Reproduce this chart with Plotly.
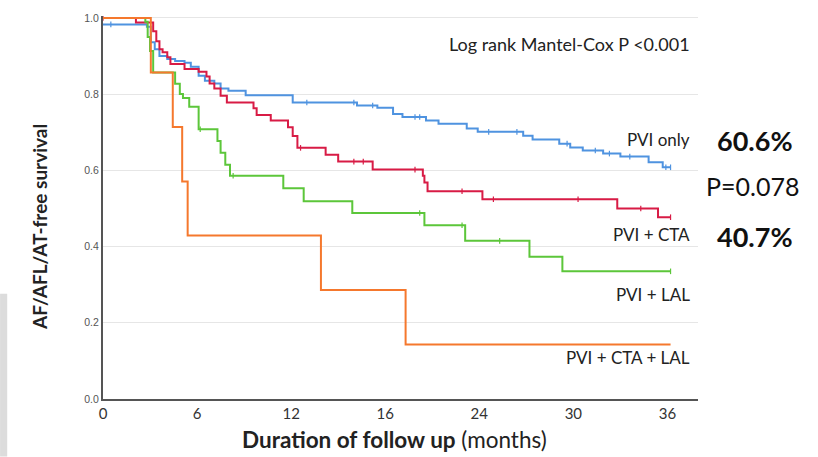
import numpy as np
import plotly.graph_objects as go

# ---- data (time in months, survival probability) ----
pvi_only_t = [0, 2.8, 3.05, 3.3, 3.6, 4.1, 4.6, 5.2, 5.6, 6.1, 6.5, 7.1, 7.5, 8.0, 9.1, 12.1, 16.2, 17.5,
              18.5, 19.1, 20.6, 21.4, 23.2, 23.9, 26.8, 27.4, 29.1, 29.8, 30.6, 31.9, 33.0, 34.8, 35.7, 36.2]
pvi_only_s = [0.983, 0.977, 0.936, 0.918, 0.900, 0.892, 0.887, 0.882, 0.872, 0.848, 0.835, 0.828, 0.815,
              0.809, 0.797, 0.778, 0.770, 0.764, 0.748, 0.740, 0.731, 0.722, 0.710, 0.701, 0.691, 0.681,
              0.670, 0.660, 0.652, 0.644, 0.636, 0.621, 0.608, 0.608]
pvi_only_cens = [0.5, 13.0, 16.0, 17.2, 19.9, 20.2, 24.6, 26.4, 29.6, 31.4, 32.3, 33.6, 35.9, 36.2]

pvi_cta_t = [0, 2.1, 3.2, 3.4, 3.6, 3.8, 4.1, 4.3, 5.2, 6.1, 6.6, 6.8, 7.1, 7.5, 7.9, 9.6, 9.8, 10.7, 11.8,
             12.1, 12.4, 14.2, 15.0, 17.2, 20.4, 20.5, 20.7, 24.2, 32.8, 35.4, 36.2]
pvi_cta_s = [1.0, 0.988, 0.965, 0.939, 0.918, 0.910, 0.897, 0.879, 0.866, 0.859, 0.846, 0.828, 0.815, 0.796,
             0.778, 0.763, 0.745, 0.731, 0.713, 0.690, 0.659, 0.641, 0.623, 0.602, 0.586, 0.568, 0.545,
             0.524, 0.500, 0.477, 0.477]
pvi_cta_cens = [0.0, 12.6, 16.0, 16.6, 19.9, 22.9, 24.9, 30.3, 34.3, 36.2]

pvi_lal_t = [0, 2.7, 2.85, 3.0, 3.2, 4.6, 4.9, 5.1, 5.5, 6.1, 7.3, 7.5, 7.8, 8.1, 11.5, 12.8, 15.9, 20.5,
             23.1, 27.2, 29.3, 36.2]
pvi_lal_s = [1.0, 0.990, 0.950, 0.913, 0.857, 0.827, 0.800, 0.790, 0.767, 0.708, 0.677, 0.646, 0.615, 0.586,
             0.553, 0.519, 0.488, 0.456, 0.415, 0.373, 0.335, 0.335]
pvi_lal_cens = [6.2, 8.3, 20.2, 22.9, 25.3, 36.2]

pvi_cta_lal_t = [0, 3.05, 4.45, 5.05, 5.4, 13.9, 19.3, 36.2]
pvi_cta_lal_s = [1.0, 0.857, 0.714, 0.571, 0.429, 0.286, 0.143, 0.143]

series_names = ["PVI only", "PVI + CTA", "PVI + LAL", "PVI + CTA + LAL"]
series_colors = ["#4f93e0", "#d81b45", "#5cc63a", "#f5782d"]

x_tick_vals = [0, 6, 12, 18, 24, 30, 36]
x_tick_text = ["0", "6", "12", "16", "24", "30", "36"]
y_tick_vals = [0.0, 0.2, 0.4, 0.6, 0.8, 1.0]
y_tick_text = ["0.0", "0.2", "0.4", "0.6", "0.8", "1.0"]

label_font = "Lato, 'Open Sans', sans-serif"

def step_value(ts, ss, t):
    idx = np.searchsorted(np.array(ts), t, side="right") - 1
    return ss[max(idx, 0)]

fig = go.Figure()
curves = [
    (pvi_only_t, pvi_only_s, pvi_only_cens),
    (pvi_cta_t, pvi_cta_s, pvi_cta_cens),
    (pvi_lal_t, pvi_lal_s, pvi_lal_cens),
    (pvi_cta_lal_t, pvi_cta_lal_s, []),
]
for (ts, ss, cens), name, col in zip(curves, series_names, series_colors):
    fig.add_trace(go.Scatter(x=ts, y=ss, mode="lines", line=dict(color=col, width=2, shape="hv"),
                             name=name, showlegend=False, hoverinfo="skip"))
    if cens:
        fig.add_trace(go.Scatter(x=cens, y=[step_value(ts, ss, c) for c in cens], mode="markers",
                                 marker=dict(symbol="line-ns", size=4, line=dict(color=col, width=1.2)),
                                 showlegend=False, hoverinfo="skip"))

fig.update_xaxes(range=[0, 37.95], tickvals=x_tick_vals, ticktext=x_tick_text, showgrid=False,
                 showline=True, linecolor="#555", linewidth=2, zeroline=False, ticks="",
                 tickfont=dict(family=label_font, size=15, color="#333"))
fig.update_yaxes(range=[0, 1.005], tickvals=y_tick_vals, ticktext=y_tick_text, showgrid=True,
                 gridcolor="#e6e6e6", gridwidth=1.2, showline=True, linecolor="#555", linewidth=2,
                 zeroline=False, ticks="", tickfont=dict(family="'Liberation Sans', Arial", size=10.5, color="#555"))

ann = []
def add_text(x, y, text, size, xanchor="right", bold=False, color="#222"):
    ann.append(dict(x=x, y=y, xref="paper", yref="paper", text=(f"<b>{text}</b>" if bold else text),
                    showarrow=False, xanchor=xanchor, yanchor="middle",
                    font=dict(family=label_font, size=size, color=color)))

add_text(0.99, 0.928, "Log rank Mantel-Cox P &lt;0.001", 18)
add_text(0.99, 0.677, "PVI only", 17)
add_text(0.99, 0.429, "PVI + CTA", 17)
add_text(0.99, 0.274, "PVI + LAL", 17)
add_text(0.99, 0.109, "PVI + CTA + LAL", 17)
add_text(1.096, 0.674, "60.6%", 27, xanchor="center", bold=True, color="#111")
add_text(1.091, 0.556, "P=0.078", 25, xanchor="center", color="#111")
add_text(1.096, 0.424, "40.7%", 27, xanchor="center", bold=True, color="#111")
ann.append(dict(x=-0.107, y=0.45, xref="paper", yref="paper", text="<b>AF/AFL/AT-free survival</b>",
                showarrow=False, textangle=-90, xanchor="center", yanchor="middle",
                font=dict(family=label_font, size=19, color="#222")))
ann.append(dict(x=0.49, y=-0.105, xref="paper", yref="paper",
                text="<b>Duration of follow up</b> (months)", showarrow=False,
                xanchor="center", yanchor="middle", font=dict(family=label_font, size=22.5, color="#222")))

fig.update_layout(
    width=818, height=457, margin=dict(l=103, r=120, t=12, b=58),
    paper_bgcolor="white", plot_bgcolor="white", annotations=ann,
    shapes=[dict(type="rect", xref="paper", yref="paper", x0=-0.173, x1=-0.161, y0=-0.15, y1=0.275,
                 fillcolor="#dcdcdc", line=dict(width=0), layer="below")],
)
fig.write_html("out.html", config={"displayModeBar": False},
               post_script="document.body.style.margin='0px';document.body.style.overflow='hidden';")
